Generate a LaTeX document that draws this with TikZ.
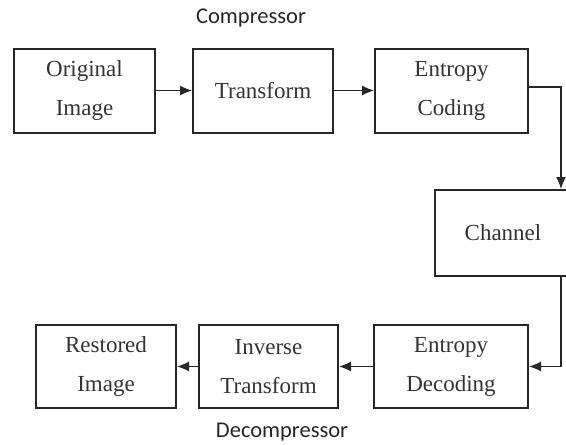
\documentclass[tikz,border=0pt]{standalone}
\usepackage{fontspec}
\setmainfont{Liberation Serif}
\newfontfamily\labelfont{Carlito}
\usetikzlibrary{arrows.meta}

\tikzset{
  blockbox/.style={draw=black!85, line width=2pt, minimum height=84pt, align=center,
    inner sep=0pt, text=black!80, font=\fontsize{23}{39}\selectfont},
  flow/.style={draw=black!85, line width=1.2pt, -{Latex[length=12pt,width=10pt]}},
  stagelabel/.style={text=black!85, font=\labelfont\fontsize{22.5}{26}\selectfont}
}

\begin{document}
\begin{tikzpicture}[x=1pt, y=-1pt]
  \useasboundingbox (0,0) rectangle (566,445);

  % compressor side
  \node[stagelabel] (comp) at (251,18) {Compressor};
  \node[blockbox, minimum width=141pt] (orig) at (84.5,90.5) {Original\\Image};
  \node[blockbox, minimum width=140pt] (trans) at (263,90.5) {Transform};
  \node[blockbox, minimum width=153pt] (enc) at (451.5,90.5) {Entropy\\Coding};

  % channel (runs off the right edge)
  \node[blockbox, minimum width=136pt, minimum height=86pt] (chan) at (503,233) {Channel};

  % decompressor side
  \node[blockbox, minimum width=154pt, minimum height=83pt] (dec) at (451,366.5) {Entropy\\Decoding};
  \node[blockbox, minimum width=139pt, minimum height=83pt] (itrans) at (268.5,366.5) {Inverse\\Transform};
  \node[blockbox, minimum width=140pt, minimum height=83pt] (rest) at (106,366.5) {Restored\\Image};
  \node[stagelabel] (decomp) at (282,432) {Decompressor};

  \coordinate (tr) at (561,87);
  \coordinate (br) at (561,366.5);

  \draw[flow] (orig.east) -- (trans.west);
  \draw[flow] (trans.east) -- (enc.west);
  \draw[flow] (enc.east |- tr) -- (tr) -- (tr |- chan.north);
  \draw[flow] (tr |- chan.south) -- (br) -- (dec.east);
  \draw[flow] (dec.west) -- (itrans.east);
  \draw[flow] (itrans.west) -- (rest.east);
\end{tikzpicture}
\end{document}
